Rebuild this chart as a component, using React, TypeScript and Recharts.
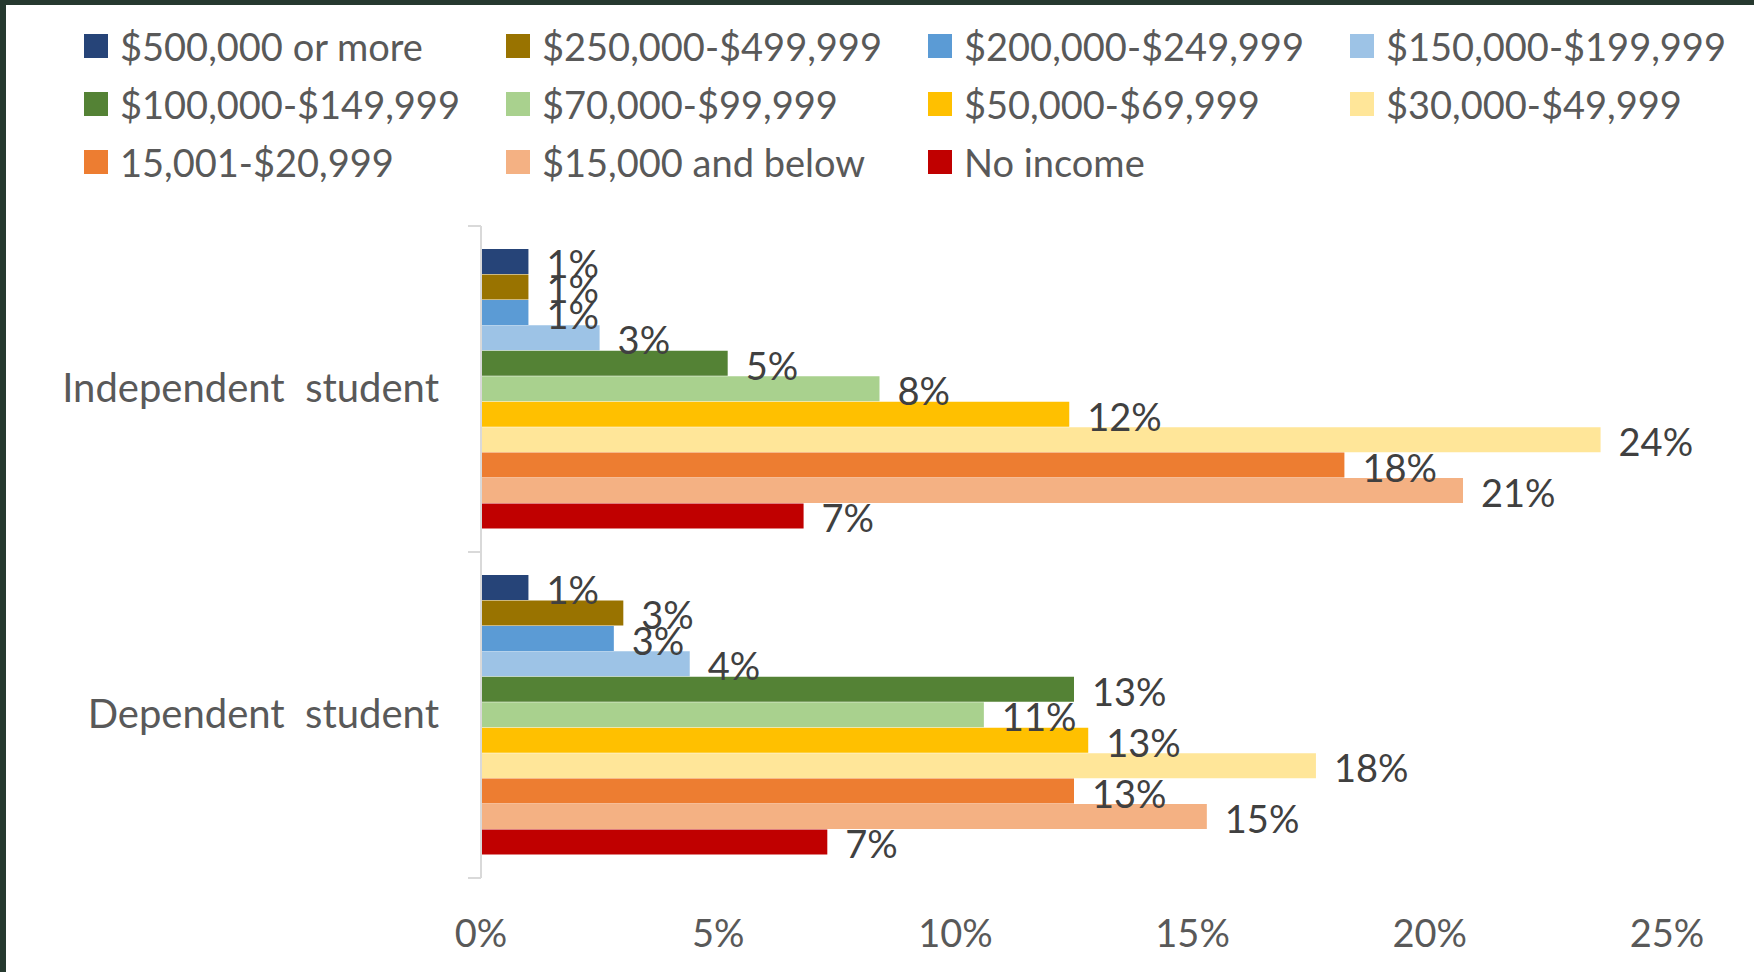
import { Bar, BarChart, LabelList, XAxis, YAxis } from "recharts";

const CATEGORIES = ["Independent  student", "Dependent  student"];

const SERIES = [
  "$500,000 or more",
  "$250,000-$499,999",
  "$200,000-$249,999",
  "$150,000-$199,999",
  "$100,000-$149,999",
  "$70,000-$99,999",
  "$50,000-$69,999",
  "$30,000-$49,999",
  "15,001-$20,999",
  "$15,000 and below",
  "No income",
];

const COLORS = [
  "#264478",
  "#997300",
  "#5b9bd5",
  "#9dc3e6",
  "#548235",
  "#a9d18e",
  "#ffc000",
  "#ffe699",
  "#ed7d31",
  "#f4b183",
  "#c00000",
];

// percent, in the same order as SERIES
const INDEPENDENT = [1.0, 1.0, 1.0, 2.5, 5.2, 8.4, 12.4, 23.6, 18.2, 20.7, 6.8];
const DEPENDENT = [1.0, 3.0, 2.8, 4.4, 12.5, 10.6, 12.8, 17.6, 12.5, 15.3, 7.3];

const X_TICKS = [0, 5, 10, 15, 20, 25];

const FONT = "Lato, 'Open Sans', sans-serif";

const rows = CATEGORIES.map((category, ci) => {
  const vals = ci === 0 ? INDEPENDENT : DEPENDENT;
  const row: Record<string, string | number> = { category };
  SERIES.forEach((_, si) => {
    row[`s${si}`] = vals[si];
  });
  return row;
});

function CategoryTick(props: any) {
  const { x, y, payload } = props;
  const half = payload?.offset ?? 0;
  return (
    <g>
      <line x1={x - 13} x2={x} y1={y - half} y2={y - half} stroke="#d9d9d9" strokeWidth={2} />
      <line x1={x - 13} x2={x} y1={y + half} y2={y + half} stroke="#d9d9d9" strokeWidth={2} />
      <text
        x={x - 42}
        y={y}
        dy="0.32em"
        textAnchor="end"
        fill="#595959"
        fontSize={40}
        fontFamily={FONT}
        style={{ whiteSpace: "pre" }}
      >
        {payload.value}
      </text>
    </g>
  );
}

function IncomeLegend() {
  return (
    <div
      style={{
        position: "absolute",
        left: 84,
        top: 17,
        display: "grid",
        gridTemplateColumns: "repeat(4, 422px)",
        gridAutoRows: "58px",
        fontFamily: FONT,
        fontSize: 38,
        color: "#595959",
      }}
    >
      {SERIES.map((name, i) => (
        <div key={name} style={{ display: "flex", alignItems: "center", whiteSpace: "nowrap" }}>
          <span style={{ width: 24, height: 24, background: COLORS[i], marginRight: 12, flex: "none" }} />
          <span>{name}</span>
        </div>
      ))}
    </div>
  );
}

export default function App() {
  return (
    <div style={{ position: "relative", width: 1754, height: 972, background: "#fff", overflow: "hidden" }}>
      <style>{`body{margin:0}`}</style>
      <BarChart
        width={1754}
        height={972}
        data={rows}
        layout="vertical"
        margin={{ top: 226, right: 87, bottom: 0, left: 0 }}
        barCategoryGap={23}
        barGap={0.45}
      >
        <XAxis
          type="number"
          domain={[0, 25]}
          ticks={X_TICKS}
          height={94}
          axisLine={false}
          tickLine={false}
          tickSize={0}
          tickMargin={42}
          tickFormatter={(v) => `${v}%`}
          tick={{ fill: "#595959", fontSize: 38, fontFamily: FONT }}
        />
        <YAxis
          type="category"
          dataKey="category"
          width={481}
          axisLine={{ stroke: "#d9d9d9", strokeWidth: 2 }}
          tickLine={false}
          tickSize={0}
          tickMargin={0}
          tick={<CategoryTick />}
        />
        {SERIES.map((name, i) => (
          <Bar key={name} dataKey={`s${i}`} name={name} fill={COLORS[i]} isAnimationActive={false}>
            <LabelList
              dataKey={`s${i}`}
              position="right"
              offset={18}
              dy={3}
              fill="#404040"
              fontSize={38}
              fontFamily={FONT}
              formatter={(v: any) => `${Math.round(Number(v))}%`}
            />
          </Bar>
        ))}
      </BarChart>
      <IncomeLegend />
      <div style={{ position: "absolute", left: 0, top: 0, width: 1754, height: 5, background: "#26392f" }} />
      <div style={{ position: "absolute", left: 0, top: 0, width: 6, height: 972, background: "#26392f" }} />
    </div>
  );
}
